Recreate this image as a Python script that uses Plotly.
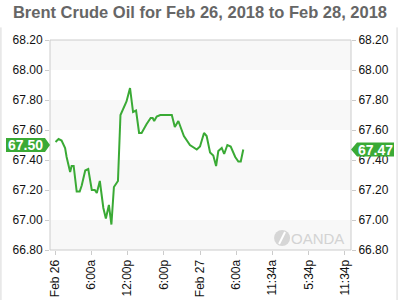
import plotly.graph_objects as go

# ---- data ----
times = [
    "2018-02-26 00:05", "2018-02-26 00:35", "2018-02-26 01:05", "2018-02-26 01:40",
    "2018-02-26 01:55", "2018-02-26 02:20", "2018-02-26 02:30", "2018-02-26 02:45",
    "2018-02-26 03:05", "2018-02-26 03:35", "2018-02-26 04:05", "2018-02-26 04:25",
    "2018-02-26 05:00", "2018-02-26 05:30", "2018-02-26 06:05", "2018-02-26 06:35",
    "2018-02-26 06:55", "2018-02-26 07:25", "2018-02-26 08:00", "2018-02-26 08:25",
    "2018-02-26 08:55", "2018-02-26 09:20", "2018-02-26 09:45", "2018-02-26 10:25",
    "2018-02-26 10:50", "2018-02-26 11:50", "2018-02-26 12:25", "2018-02-26 12:55",
    "2018-02-26 13:25", "2018-02-26 13:55", "2018-02-26 14:20", "2018-02-26 15:10",
    "2018-02-26 15:50", "2018-02-26 16:10", "2018-02-26 16:25", "2018-02-26 16:50",
    "2018-02-26 17:25", "2018-02-26 19:20", "2018-02-26 19:50", "2018-02-26 20:25",
    "2018-02-26 21:20", "2018-02-26 22:20", "2018-02-26 23:28", "2018-02-27 00:00",
    "2018-02-27 00:40", "2018-02-27 01:06", "2018-02-27 01:40", "2018-02-27 02:12",
    "2018-02-27 02:40", "2018-02-27 03:02", "2018-02-27 03:36", "2018-02-27 04:00",
    "2018-02-27 04:32", "2018-02-27 05:05", "2018-02-27 05:50", "2018-02-27 06:21",
    "2018-02-27 06:45", "2018-02-27 07:10",
]
prices = [
    67.52, 67.54, 67.53, 67.48,
    67.42, 67.33, 67.32, 67.36,
    67.36, 67.19, 67.19, 67.23,
    67.33, 67.34, 67.20, 67.20,
    67.18, 67.26, 67.08, 67.01,
    67.10, 66.97, 67.22, 67.26,
    67.70, 67.79, 67.88, 67.72,
    67.73, 67.58, 67.58, 67.64,
    67.68, 67.68, 67.66, 67.69,
    67.70, 67.70, 67.62, 67.66,
    67.56, 67.50, 67.47, 67.49,
    67.58, 67.56, 67.45, 67.43,
    67.36, 67.46, 67.48, 67.44,
    67.50, 67.49, 67.42, 67.39,
    67.39, 67.47,
]
left_badge_value = 67.50
right_badge_value = 67.47

x_tick_vals = [
    "2018-02-26 00:00", "2018-02-26 06:00", "2018-02-26 12:00", "2018-02-26 18:00",
    "2018-02-27 00:00", "2018-02-27 06:00", "2018-02-27 12:00", "2018-02-27 18:00",
    "2018-02-28 00:00",
]
x_tick_text = ["Feb 26", "6:00a", "12:00p", "6:00p", "Feb 27", "6:00a", "11:34a", "5:34p", "11:34p"]
y_ticks = [66.80, 67.00, 67.20, 67.40, 67.60, 67.80, 68.00, 68.20]
y_tick_text = ["%.2f" % v for v in y_ticks]

title = "Brent Crude Oil for Feb 26, 2018 to Feb 28, 2018"
GREEN = "#3aaa35"
FONT = "Liberation Sans, Arial, sans-serif"

fig = go.Figure()
fig.add_trace(go.Scatter(
    x=times, y=prices, mode="lines",
    line=dict(color=GREEN, width=2), hoverinfo="skip", showlegend=False,
))
# phantom trace so the right-hand axis is drawn
fig.add_trace(go.Scatter(x=[times[0]], y=[prices[0]], yaxis="y2", mode="lines",
                         line=dict(width=0), showlegend=False, hoverinfo="skip"))

shapes = []
# alternating horizontal bands
for i in range(len(y_ticks) - 1):
    if (len(y_ticks) - 2 - i) % 2 == 0:
        shapes.append(dict(type="rect", xref="paper", yref="y", x0=0, x1=1,
                           y0=y_ticks[i], y1=y_ticks[i + 1],
                           fillcolor="#f8f8f8", line=dict(width=0), layer="below"))
# plot frame
shapes.append(dict(type="rect", xref="paper", yref="paper", x0=0, x1=1, y0=0, y1=1,
                   line=dict(color="#cccccc", width=1), layer="above"))
# outer border lines
for xp in (-0.163, 1.153):
    shapes.append(dict(type="line", xref="paper", yref="paper", x0=xp, x1=xp,
                       y0=1.06, y1=-0.25, line=dict(color="#d8d8d8", width=1)))
# price badges (pentagon with arrow tip at the axis)
shapes.append(dict(type="path", xref="paper", yref="y", xsizemode="pixel", ysizemode="pixel",
                   xanchor=0, yanchor=left_badge_value,
                   path="M0,0 L-5,7 L-44,7 L-44,-7 L-5,-7 Z",
                   fillcolor=GREEN, line=dict(width=0)))
shapes.append(dict(type="path", xref="paper", yref="y", xsizemode="pixel", ysizemode="pixel",
                   xanchor=1, yanchor=right_badge_value,
                   path="M0,0 L6,7 L43,7 L43,-7 L6,-7 Z",
                   fillcolor=GREEN, line=dict(width=0)))
# watermark logo: grey disc with a white diagonal stroke
shapes.append(dict(type="circle", xref="paper", yref="paper", xsizemode="pixel", ysizemode="pixel",
                   xanchor=0.771, yanchor=0.057, x0=-8, x1=8, y0=-8, y1=8,
                   fillcolor="#d6d6d6", line=dict(width=0)))
shapes.append(dict(type="path", xref="paper", yref="paper", xsizemode="pixel", ysizemode="pixel",
                   xanchor=0.771, yanchor=0.057, path="M-3,-6 L3,6",
                   line=dict(color="white", width=2)))

annotations = [
    dict(text="<b>%.2f</b>" % left_badge_value, xref="paper", yref="y", x=0, y=left_badge_value,
         xanchor="center", yanchor="middle", xshift=-25, showarrow=False,
         font=dict(color="white", size=14, family=FONT)),
    dict(text="<b>%.2f</b>" % right_badge_value, xref="paper", yref="y", x=1, y=right_badge_value,
         xanchor="center", yanchor="middle", xshift=24, showarrow=False,
         font=dict(color="white", size=14, family=FONT)),
    dict(text="OANDA", xref="paper", yref="paper", x=0.982, y=0.057, xanchor="right",
         yanchor="middle", showarrow=False, font=dict(color="#d3d3d3", size=15, family=FONT)),
]

axis_font = dict(color="#111111", size=12, family=FONT)
fig.update_layout(
    width=400, height=300,
    margin=dict(l=50, r=49, t=40, b=50, autoexpand=False),
    paper_bgcolor="white", plot_bgcolor="white",
    title=dict(text=title, x=0.5, xanchor="center", y=0.96, yanchor="middle",
               font=dict(color="#666666", size=16.5, family=FONT, weight="bold")),
    xaxis=dict(type="date", range=["2018-02-25 23:10", "2018-02-28 01:00"],
               tickvals=x_tick_vals, ticktext=x_tick_text, tickangle=-90,
               ticks="outside", ticklen=4, tickcolor="#cccccc", automargin=False,
               showgrid=False, zeroline=False, showline=False, tickfont=axis_font),
    yaxis=dict(range=[66.80, 68.20], tickvals=y_ticks, ticktext=y_tick_text,
               ticks="outside", ticklen=4, tickcolor="#cccccc", automargin=False,
               showgrid=False, zeroline=False, showline=False, tickfont=axis_font),
    yaxis2=dict(range=[66.80, 68.20], tickvals=y_ticks, ticktext=y_tick_text,
                overlaying="y", side="right", automargin=False,
                ticks="outside", ticklen=4, tickcolor="#cccccc",
                showgrid=False, zeroline=False, showline=False, tickfont=axis_font),
    shapes=shapes, annotations=annotations,
)
fig.write_html("out.html")
